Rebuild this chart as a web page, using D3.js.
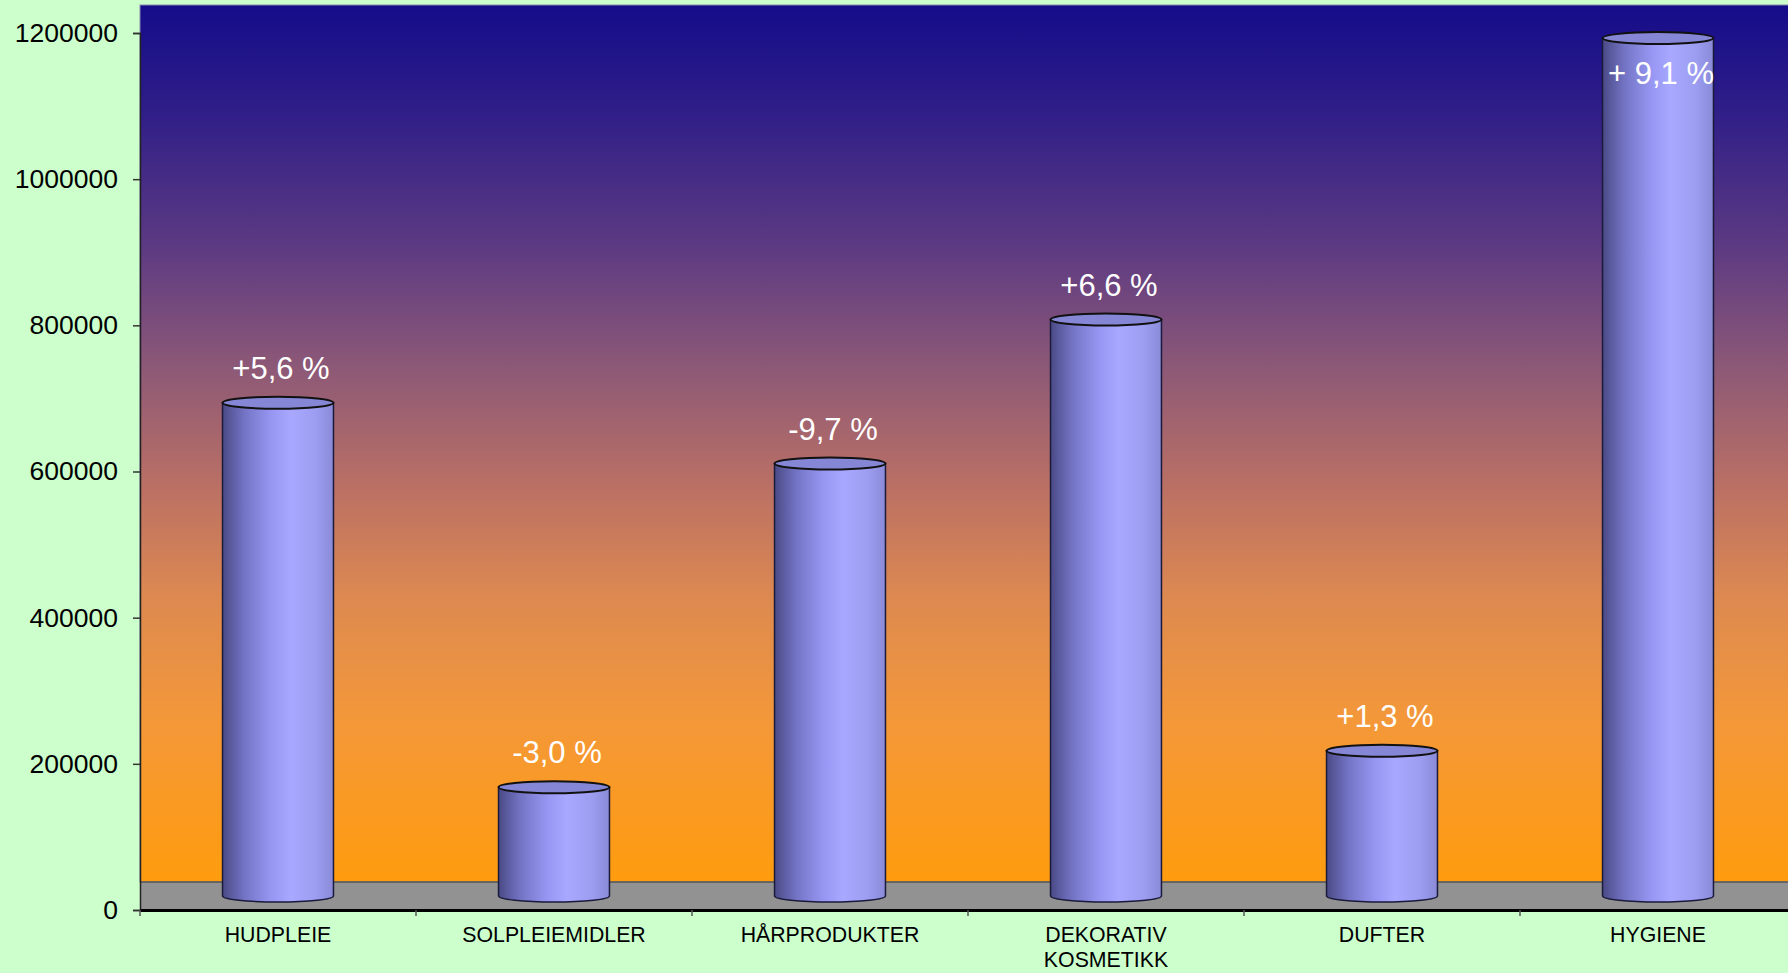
<!DOCTYPE html>
<html lang="en">
<head>
<meta charset="utf-8">
<title>Kosmetikk salg</title>
<script src="https://d3js.org/d3.v7.min.js"></script>
<style>
  body { margin: 0; background: #ccffcc; overflow: hidden; }
  svg { display: block; font-family: "Liberation Sans", Arial, sans-serif; }
</style>
</head>
<body>
<div id="chart"></div>
<script>
// data
const categories = ["HUDPLEIE", "SOLPLEIEMIDLER", "HÅRPRODUKTER", "DEKORATIV KOSMETIKK", "DUFTER", "HYGIENE"];
const values = [694000, 168000, 611000, 808000, 218000, 1193000];
const changes = ["+5,6 %", "-3,0 %", "-9,7 %", "+6,6 %", "+1,3 %", "+ 9,1 %"];
const yTicks = [0, 200000, 400000, 600000, 800000, 1000000, 1200000];

const W = 1788, H = 973;
const margin = {top: 5, right: -8, bottom: 63, left: 140};
const floorDepth = 28;

const svg = d3.select("#chart").append("svg")
  .attr("width", W)
  .attr("height", H);

const defs = svg.append("defs");

// background gradient of the plot wall
const wallGrad = defs.append("linearGradient")
  .attr("id", "wall").attr("x1", 0).attr("y1", 0).attr("x2", 0).attr("y2", 1);
[["0%", "#150c8a"], ["12%", "#2f1e88"], ["28%", "#5e3b82"], ["42%", "#8f5a76"],
 ["55%", "#bb7064"], ["68%", "#de8a50"], ["82%", "#f49838"], ["100%", "#ff9c0e"]]
  .forEach(s => wallGrad.append("stop").attr("offset", s[0]).attr("stop-color", s[1]));

// cylinder side shading
const barGrad = defs.append("linearGradient")
  .attr("id", "bar").attr("x1", 0).attr("y1", 0).attr("x2", 1).attr("y2", 0);
[["0%", "#4a4a86"], ["20%", "#7474c6"], ["45%", "#9898f4"], ["62%", "#a8a8ff"],
 ["85%", "#9c9cf0"], ["100%", "#8a8ad8"]]
  .forEach(s => barGrad.append("stop").attr("offset", s[0]).attr("stop-color", s[1]));

const x = d3.scaleBand()
  .domain(categories)
  .range([margin.left, W - margin.right]);

const y = d3.scaleLinear()
  .domain([0, 1200000])
  .range([H - margin.bottom, 33]);

const y0 = y(0);

// wall
svg.append("rect")
  .attr("x", margin.left).attr("y", margin.top)
  .attr("width", W - margin.left - margin.right)
  .attr("height", y0 - floorDepth - margin.top)
  .attr("fill", "url(#wall)")
  .attr("stroke", "#8888aa").attr("stroke-width", 1);

// floor
svg.append("rect")
  .attr("x", margin.left).attr("y", y0 - floorDepth)
  .attr("width", W - margin.left - margin.right)
  .attr("height", floorDepth)
  .attr("fill", "#929292");
svg.append("line")
  .attr("x1", margin.left).attr("x2", W)
  .attr("y1", y0 - floorDepth).attr("y2", y0 - floorDepth)
  .attr("stroke", "#555").attr("stroke-width", 1.5);

// cylinders
const bw = x.bandwidth() * 0.402;
const ry = 6;
const base = y0 - 14;

const bars = svg.selectAll("g.cyl")
  .data(categories)
  .enter()
  .append("g")
  .attr("class", "cyl");

bars.append("path")
  .attr("d", (d, i) => {
    const cx = x(d) + x.bandwidth() / 2;
    const l = cx - bw / 2, r = cx + bw / 2, t = y(values[i]);
    return `M${l},${t} L${l},${base} A${bw / 2},${ry} 0 0 0 ${r},${base} L${r},${t} Z`;
  })
  .attr("fill", "url(#bar)")
  .attr("stroke", "#1a1a3a")
  .attr("stroke-width", 1.5);

bars.append("ellipse")
  .attr("cx", d => x(d) + x.bandwidth() / 2)
  .attr("cy", (d, i) => y(values[i]))
  .attr("rx", bw / 2)
  .attr("ry", ry)
  .attr("fill", "#8686d6")
  .attr("stroke", "#111")
  .attr("stroke-width", 2);

// value change labels
bars.append("text")
  .attr("x", d => x(d) + x.bandwidth() / 2 + 3)
  .attr("y", (d, i) => {
    const t = y(values[i]);
    return t - 32 < 40 ? t + 38 : t - 32;
  })
  .attr("text-anchor", "middle")
  .attr("dominant-baseline", "middle")
  .attr("fill", "#fff")
  .style("font-size", "31px")
  .text((d, i) => changes[i]);

// y axis
const yAxis = svg.append("g")
  .attr("transform", `translate(${margin.left},0)`)
  .call(d3.axisLeft(y).tickValues(yTicks).tickFormat(d3.format("d")).tickSize(7).tickPadding(15));
yAxis.select(".domain").attr("stroke", "#222").attr("stroke-width", 1.5);
yAxis.selectAll(".tick line").attr("stroke", "#333").attr("stroke-width", 1.5);
yAxis.selectAll(".tick text")
  .attr("fill", "#000")
  .style("font-size", "26.5px");

// x axis
const xAxis = svg.append("g")
  .attr("transform", `translate(0,${y0})`)
  .call(d3.axisBottom(x).tickSize(0).tickPadding(17));
xAxis.select(".domain").attr("stroke", "#000").attr("stroke-width", 3);
xAxis.selectAll(".tick text").remove();

// category boundary ticks
svg.selectAll("line.sep")
  .data(categories)
  .enter()
  .append("line")
  .attr("x1", d => x(d)).attr("x2", d => x(d))
  .attr("y1", y0).attr("y2", y0 + 6)
  .attr("stroke", "#555").attr("stroke-width", 1.5);

// category labels (wrapped)
const lab = svg.selectAll("text.cat")
  .data(categories)
  .enter()
  .append("text")
  .attr("class", "cat")
  .attr("text-anchor", "middle")
  .attr("fill", "#000")
  .style("font-size", "21.3px");
lab.each(function(d) {
  const words = d === "DEKORATIV KOSMETIKK" ? d.split(" ") : [d];
  const t = d3.select(this);
  words.forEach((w, k) => {
    t.append("tspan")
      .attr("x", x(d) + x.bandwidth() / 2)
      .attr("y", y0 + 32 + k * 25)
      .text(w);
  });
});
</script>
</body>
</html>
